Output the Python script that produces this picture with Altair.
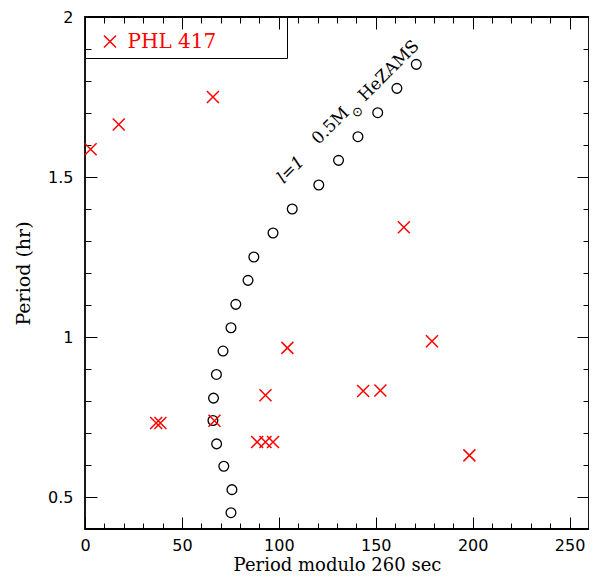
import altair as alt
import pandas as pd

# l=1, 0.5 Msun HeZAMS model periods (open circles)
model_mod = [75.3, 75.8, 71.6, 67.9, 66.0, 66.3, 67.8, 71.2, 75.3, 77.8,
             84.1, 87.1, 97.0, 106.9, 120.6, 130.8, 140.8, 151.0, 160.9, 170.9]
model_period = [0.451, 0.523, 0.596, 0.666, 0.739, 0.809, 0.883, 0.956, 1.029, 1.102,
                1.177, 1.250, 1.325, 1.400, 1.475, 1.552, 1.626, 1.701, 1.777, 1.852]

# PHL 417 observed periods (crosses)
obs_name = "PHL 417"
obs_mod = [2.9, 17.4, 66.0, 36.7, 38.9, 66.8, 93.1, 104.4, 88.8, 93.1,
           97.0, 143.5, 152.4, 179.0, 198.3, 164.5]
obs_period = [1.587, 1.664, 1.750, 0.731, 0.731, 0.738, 0.818, 0.966, 0.672, 0.672,
              0.672, 0.831, 0.833, 0.987, 0.630, 1.343]

# axis ticks
x_major = [0, 50, 100, 150, 200, 250]
x_minor = [10, 20, 30, 40, 60, 70, 80, 90, 110, 120, 130, 140, 160, 170, 180, 190,
           210, 220, 230, 240]
y_major = [0.5, 1.0, 1.5, 2.0]
y_minor = [0.6, 0.7, 0.8, 0.9, 1.1, 1.2, 1.3, 1.4, 1.6, 1.7, 1.8, 1.9]

# annotation along the model sequence
ann_text = ["l=1", "0.5M", "\u2299", "HeZAMS"]
ann_mod = [102.5, 120.5, 140.6, 144.4]
ann_period = [1.477, 1.599, 1.703, 1.734]

X_SHAPE = "M-1,-1L1,1M-1,1L1,-1"

model_df = pd.DataFrame({"mod": model_mod, "period": model_period})
obs_df = pd.DataFrame({"mod": obs_mod, "period": obs_period,
                       "star": [obs_name] * len(obs_mod)})

x_scale = alt.Scale(domain=[0, 260], nice=False, zero=False)
y_scale = alt.Scale(domain=[0.4, 2.0], nice=False, zero=False)

label_style = dict(labelFont="DejaVu Sans", labelFontSize=16, labelColor="black")
title_style = dict(titleFont="DejaVu Serif", titleFontWeight="normal", titleColor="black")


def ax(orient, values, size, labels=False, **kw):
    return alt.Axis(orient=orient, values=values, tickSize=size, offset=-size,
                    labels=labels, domain=False, grid=False, tickColor="black",
                    tickWidth=1, labelFlush=False, labelOverlap=False, **kw)


circles = alt.Chart(model_df).mark_point(
    shape="circle", filled=False, size=95, color="black", strokeWidth=1.3, opacity=1
).encode(
    x=alt.X("mod:Q", scale=x_scale,
            axis=ax("bottom", x_major, 12, labels=True, format="d", labelPadding=8,
                    title="Period modulo 260 sec", titlePadding=3, titleFontSize=18,
                    **label_style, **title_style)),
    y=alt.Y("period:Q", scale=y_scale,
            axis=ax("left", y_major, 12, labels=True, format="~g", labelPadding=12,
                    title="Period (hr)", titlePadding=14, titleFontSize=19,
                    **label_style, **title_style)),
)

# trailing no-break spaces (kept by a zero-width space) widen the legend frame
legend_label = "datum.label + '" + "\u00a0" * 10 + "\u200b'"

crosses = alt.Chart(obs_df).mark_point(
    shape=X_SHAPE, filled=False, size=144, strokeWidth=1.5, opacity=1
).encode(
    x=alt.X("mod:Q", scale=x_scale, axis=ax("bottom", x_minor, 6, title=None)),
    y=alt.Y("period:Q", scale=y_scale, axis=ax("left", y_minor, 6, title=None)),
    color=alt.Color("star:N", scale=alt.Scale(domain=[obs_name], range=["red"]),
                    legend=alt.Legend(orient="none", legendX=0, legendY=0,
                                      title="\u200b\u00a0\u200b", titleOrient="top",
                                      titlePadding=0, titleFontSize=8,
                                      padding=6.5, strokeColor="black", cornerRadius=0,
                                      symbolType=X_SHAPE, symbolSize=144,
                                      symbolStrokeWidth=1.5, symbolOffset=8.5,
                                      labelFont="DejaVu Serif",
                                      labelFontSize=20, labelColor="red",
                                      labelOffset=7.5, labelLimit=400,
                                      labelExpr=legend_label)),
)


def ann(i, x_axis, y_axis, **mk):
    df = pd.DataFrame({"mod": [ann_mod[i]], "period": [ann_period[i]], "t": [ann_text[i]]})
    return alt.Chart(df).mark_text(angle=315, color="black", **mk).encode(
        x=alt.X("mod:Q", scale=x_scale, axis=x_axis),
        y=alt.Y("period:Q", scale=y_scale, axis=y_axis),
        text="t:N",
    )


t_l = ann(0, ax("top", x_major, 12, title=None), ax("right", y_major, 12, title=None),
          align="left", baseline="alphabetic", font="DejaVu Serif", fontSize=17,
          fontStyle="italic")
t_m = ann(1, ax("top", x_minor, 6, title=None), ax("right", y_minor, 6, title=None),
          align="left", baseline="alphabetic", font="DejaVu Serif", fontSize=17)
t_sun = ann(2, None, None, align="center", baseline="middle", font="DejaVu Sans",
            fontSize=13)
t_he = ann(3, None, None, align="left", baseline="alphabetic", font="DejaVu Serif",
           fontSize=17)

chart = alt.layer(circles, crosses, t_l, t_m, t_sun, t_he).resolve_axis(
    x="independent", y="independent"
).properties(
    width=504, height=512,
    padding={"left": 77, "top": 9, "right": 0, "bottom": 47},
    autosize=alt.AutoSizeParams(type="none"),
).configure_view(stroke="black", strokeWidth=1.8)

chart.save("out.html", embed_options={"renderer": "svg", "actions": False})
